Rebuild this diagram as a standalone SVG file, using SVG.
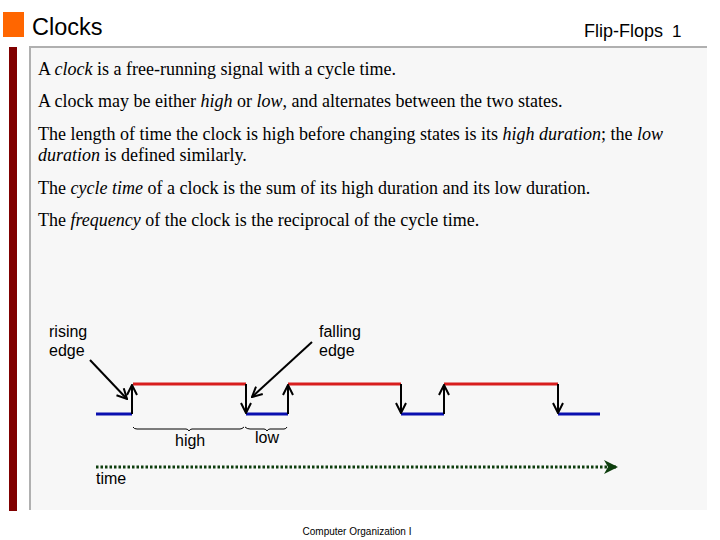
<svg xmlns="http://www.w3.org/2000/svg" width="720" height="540" viewBox="0 0 720 540">
<defs>
<style>
.body{font-family:"Liberation Serif","Times New Roman",serif;font-size:18px;fill:#000}
.sans{font-family:"Liberation Sans",Arial,sans-serif;fill:#000}
.hi{stroke:#d81e1e;stroke-width:3;fill:none}
.lo{stroke:#0a10b0;stroke-width:3;fill:none}
.edge{stroke:#000;stroke-width:2;fill:none}
.brace{stroke:#000;stroke-width:1;fill:none}
</style>
<marker id="open" viewBox="0 0 12 12" refX="11" refY="6" markerWidth="12" markerHeight="12" markerUnits="userSpaceOnUse" orient="auto">
<path d="M1,1 L11,6 L1,11" fill="none" stroke="#000" stroke-width="2"/>
</marker>
<marker id="tri" viewBox="0 0 14 14" refX="13" refY="7" markerWidth="14" markerHeight="14" markerUnits="userSpaceOnUse" orient="auto">
<path d="M0,0 L14,7 L0,14 L4,7 Z" fill="#0d3d0d"/>
</marker>
</defs>
<rect width="720" height="540" fill="#fff"/>
<g id="header">
<rect x="3" y="12" width="21" height="25" fill="#ff6600"/>
<text class="sans" x="32" y="35" font-size="23.5">Clocks</text>
<text class="sans" x="584" y="36.5" font-size="18">Flip-Flops</text>
<text class="sans" x="672" y="36.5" font-size="17">1</text>
</g>
<g id="panel">
<rect x="9" y="47" width="8" height="464" fill="#800000"/>
<rect x="30" y="47" width="677" height="463" fill="#f7f7f7"/>
<line x1="29" y1="47" x2="707" y2="47" stroke="#b0b0b0" stroke-width="2"/>
<line x1="30" y1="46" x2="30" y2="510" stroke="#b0b0b0" stroke-width="2"/>
</g>
<g id="text">
<text class="body" x="38" y="75">A <tspan font-style="italic">clock</tspan> is a free-running signal with a cycle time.</text>
<text class="body" x="38" y="107">A clock may be either <tspan font-style="italic">high</tspan> or <tspan font-style="italic">low</tspan>, and alternates between the two states.</text>
<text class="body" x="38" y="140">The length of time the clock is high before changing states is its <tspan font-style="italic">high duration</tspan>; the <tspan font-style="italic">low</tspan></text>
<text class="body" x="38" y="161"><tspan font-style="italic">duration</tspan> is defined similarly.</text>
<text class="body" x="38" y="194">The <tspan font-style="italic">cycle time</tspan> of a clock is the sum of its high duration and its low duration.</text>
<text class="body" x="38" y="226">The <tspan font-style="italic">frequency</tspan> of the clock is the reciprocal of the cycle time.</text>
</g>
<g id="waveform">
<path class="lo" d="M96,414 H132 M246,414 H288 M401,414 H444 M558,414 H600"/>
<path class="hi" d="M133,384 H246 M288,384 H401 M444,384 H558"/>
</g>
<g id="connectors">
<line class="edge" x1="132" y1="414" x2="132" y2="385" marker-end="url(#open)"/>
<line class="edge" x1="288" y1="414" x2="288" y2="385" marker-end="url(#open)"/>
<line class="edge" x1="444" y1="414" x2="444" y2="385" marker-end="url(#open)"/>
<line class="edge" x1="246" y1="384" x2="246" y2="413" marker-end="url(#open)"/>
<line class="edge" x1="401" y1="384" x2="401" y2="413" marker-end="url(#open)"/>
<line class="edge" x1="558" y1="384" x2="558" y2="413" marker-end="url(#open)"/>
<line class="edge" x1="90" y1="360" x2="127" y2="399" marker-end="url(#open)"/>
<line class="edge" x1="312" y1="342" x2="252" y2="397" marker-end="url(#open)"/>
<line x1="96" y1="467" x2="617" y2="467" stroke="#0d3d0d" stroke-width="3" stroke-dasharray="2.5,2" marker-end="url(#tri)"/>
</g>
<g id="labels">
<text class="sans" x="49" y="337" font-size="16">rising</text>
<text class="sans" x="49" y="356" font-size="16">edge</text>
<text class="sans" x="319" y="337" font-size="16">falling</text>
<text class="sans" x="319" y="356" font-size="16">edge</text>
<path class="brace" d="M133,427 Q134,429 137,429 H186 Q188,429 189,431 Q190,429 192,429 H240 Q242,429 244,427"/>
<path class="brace" d="M245,427 Q247,429 250,429 H264 Q266,429 267,431 Q268,429 270,429 H284 Q286,429 287,427"/>
<text class="sans" x="175" y="446" font-size="16">high</text>
<text class="sans" x="255" y="443" font-size="16">low</text>
<text class="sans" x="96" y="484" font-size="16">time</text>
</g>
<text class="sans" x="357" y="535" font-size="10" fill="#333" text-anchor="middle">Computer Organization I</text>
</svg>
